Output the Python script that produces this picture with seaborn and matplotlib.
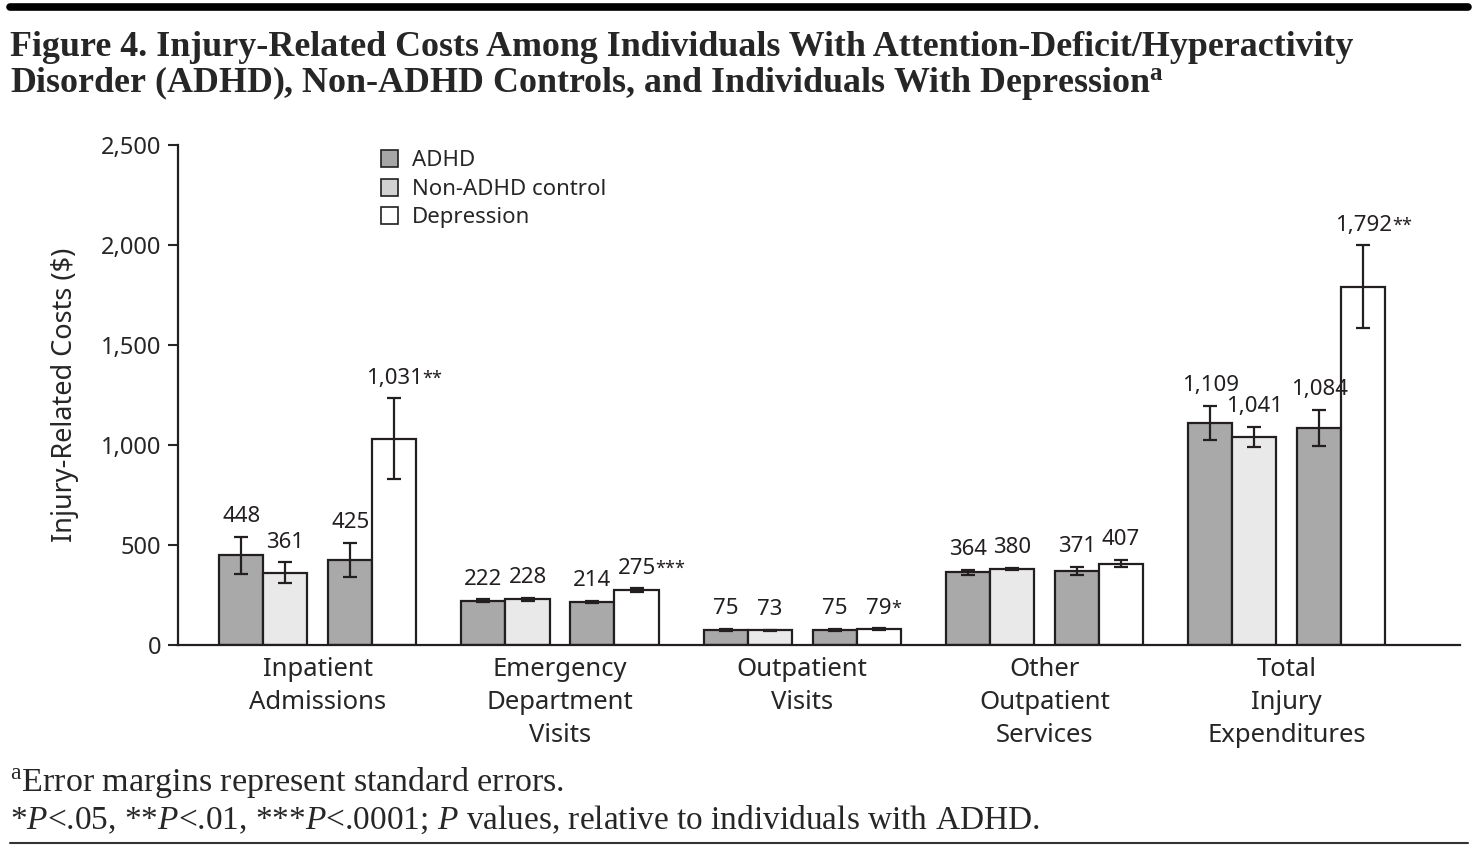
import numpy as np
import pandas as pd
import matplotlib
matplotlib.use("Agg")
import matplotlib.pyplot as plt
from matplotlib.patches import Patch
from matplotlib.lines import Line2D
import seaborn as sns

# data
categories = ["Inpatient\nAdmissions", "Emergency\nDepartment\nVisits",
              "Outpatient\nVisits", "Other\nOutpatient\nServices",
              "Total\nInjury\nExpenditures"]
adhd_a = [448, 222, 75, 364, 1109]      # ADHD (vs control)
control = [361, 228, 73, 380, 1041]
adhd_b = [425, 214, 75, 371, 1084]      # ADHD (vs depression)
depression = [1031, 275, 79, 407, 1792]
se_adhd_a = [93, 6, 4, 12, 85]
se_control = [52, 6, 4, 6, 49]
se_adhd_b = [85, 6, 4, 20, 90]
se_depression = [202, 8, 4, 18, 206]
dep_stars = ["**", "***", "*", "", "**"]

sans = ["Noto Sans", "DejaVu Sans"]
serif = ["Liberation Serif", "DejaVu Serif"]

sns.set_style("ticks")
plt.rcParams["font.family"] = sans
plt.rcParams["mathtext.fontset"] = "custom"
plt.rcParams["mathtext.rm"] = "Liberation Serif"
plt.rcParams["mathtext.it"] = "Liberation Serif:italic"
plt.rcParams["mathtext.bf"] = "Liberation Serif:bold"

# long table, one row per bar; slot offsets give the paired layout
offsets = [-0.316, -0.134, 0.134, 0.316]
series = [("ADHD", adhd_a, se_adhd_a), ("Non-ADHD control", control, se_control),
          ("ADHD", adhd_b, se_adhd_b), ("Depression", depression, se_depression)]
rows = []
for s, (grp, vals, errs) in enumerate(series):
    for i, (v, e) in enumerate(zip(vals, errs)):
        stars = dep_stars[i] if grp == "Depression" else ""
        rows.append(dict(pos=i + offsets[s], group=grp, value=v, se=e,
                         label=f"{v:,}", stars=stars))
df = pd.DataFrame(rows)

colors = {"ADHD": "#a9a9a9", "Non-ADHD control": "#e9e9e9", "Depression": "#ffffff"}
edge = "#231f20"

fig = plt.figure(figsize=(14.78, 8.49), dpi=100)
ax = fig.add_axes([0.1204, 0.2403, 0.8674, 0.5889])

sns.barplot(data=df, x="pos", y="value", hue="group", palette=colors,
            native_scale=True, dodge=False, width=1.0, errorbar=None,
            edgecolor=edge, linewidth=1.6, legend=False, ax=ax)

ax.errorbar(df["pos"], df["value"], yerr=df["se"], fmt="none",
            ecolor=edge, elinewidth=1.6, capsize=4.8, capthick=1.6)

for _, r in df.iterrows():
    num = ax.annotate(r["label"], (r["pos"], r["value"] + r["se"]),
                      xytext=(0, 7), textcoords="offset points",
                      ha="center", va="bottom", fontsize=16, color=edge)
    if r["stars"]:
        ax.annotate(r["stars"], xy=(1, 0.92), xycoords=num,
                    ha="left", va="top", fontsize=13, color=edge)

ax.set_xlim(-0.577, 4.715)
ax.set_ylim(0, 2500)
ax.set_yticks(np.arange(0, 2501, 500))
ax.yaxis.set_major_formatter(matplotlib.ticker.StrMethodFormatter("{x:,.0f}"))
ax.set_xticks(range(len(categories)))
ax.set_xticklabels(categories, fontsize=18.5, linespacing=1.42)
ax.tick_params(axis="x", length=0, pad=9)
ax.tick_params(axis="y", length=7, width=1.5, pad=5, labelsize=17, direction="out")
ax.set_xlabel("")
ax.set_ylabel("Injury-Related Costs ($)", fontsize=19.5, labelpad=16)
sns.despine(ax=ax)
for sp in ["left", "bottom"]:
    ax.spines[sp].set_linewidth(1.6)
    ax.spines[sp].set_color(edge)

handles = [Patch(facecolor="#a6a6a6", edgecolor=edge, linewidth=1.2),
           Patch(facecolor="#d2d2d2", edgecolor=edge, linewidth=1.2),
           Patch(facecolor="#ffffff", edgecolor=edge, linewidth=1.2)]
ax.legend(handles, ["ADHD", "Non-ADHD control", "Depression"], loc="upper left",
          bbox_to_anchor=(0.158, 0.99), frameon=False, fontsize=16,
          handlelength=0.8, handleheight=0.8, handletextpad=0.6,
          labelspacing=0.33, borderpad=0, borderaxespad=0)

# title, rules and footnotes
fig.add_artist(Line2D([0.007, 0.993], [0.992, 0.992], color="black", lw=5.5))
fig.text(0.007, 0.963,
         "Figure 4. Injury-Related Costs Among Individuals With Attention-Deficit/Hyperactivity\n"
         "Disorder (ADHD), Non-ADHD Controls, and Individuals With Depression$^{\\mathbf{a}}$",
         fontsize=25.8, fontweight="bold", family=serif, va="top", linespacing=1.0)
fig.text(0.007, 0.068, "$^{\\mathrm{a}}$Error margins represent standard errors.",
         fontsize=24.5, family=serif, va="baseline")
fig.text(0.007, 0.024,
         "*$P$<.05, **$P$<.01, ***$P$<.0001; $P$ values, relative to individuals with ADHD.",
         fontsize=24, family=serif, va="baseline")
fig.add_artist(Line2D([0.007, 0.993], [0.007, 0.007], color="#333333", lw=1.5))

fig.savefig("out.png", dpi=100)
